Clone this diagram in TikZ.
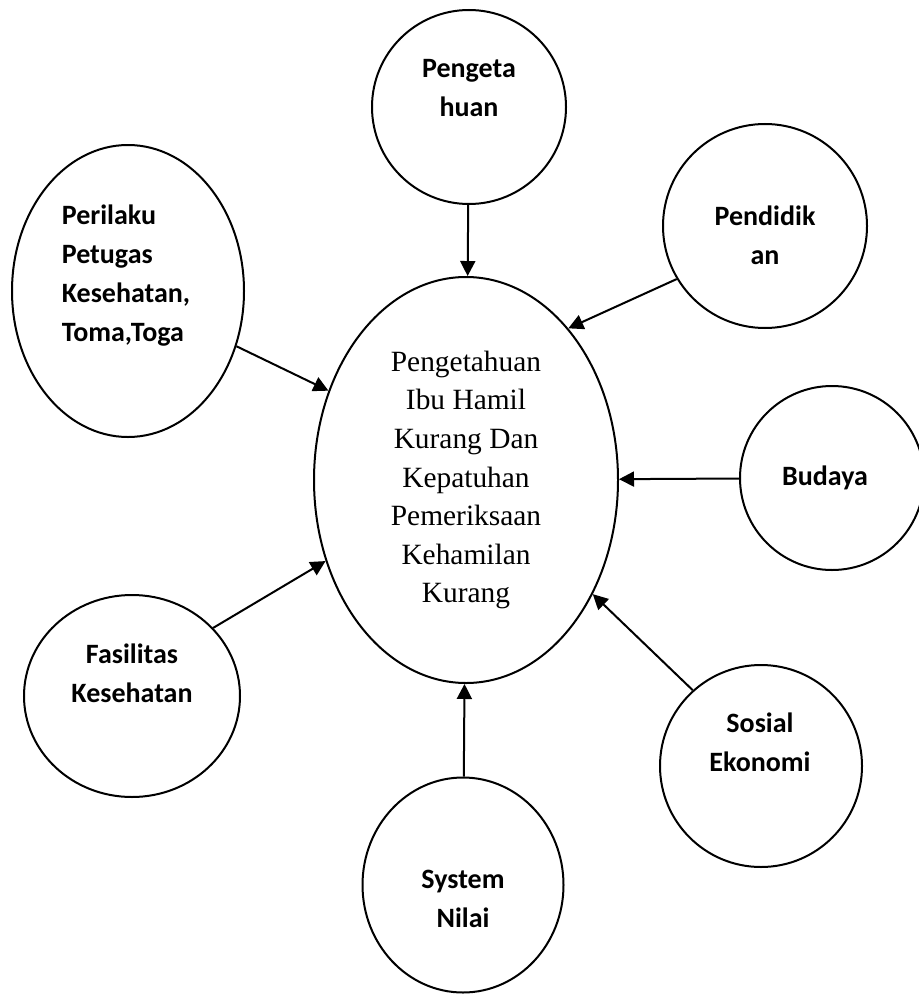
\documentclass[tikz,border=0pt]{standalone}
\usepackage{fontspec}
\setmainfont{Liberation Serif}
\newfontfamily\calibri{Carlito}
\usetikzlibrary{arrows.meta,shapes.geometric,positioning}

\begin{document}
\begin{tikzpicture}[
        x=0.5pt, y=-0.5pt,
        >={Triangle[length=7.5pt,width=7.5pt]},
        every path/.style={line width=1pt},
        factor/.style={draw, ellipse, inner sep=0pt},
        factortext/.style={align=center, inner sep=0pt, font=\calibri\bfseries\fontsize{14pt}{19.5pt}\selectfont},
        core/.style={draw, ellipse, inner sep=0pt, align=center, font=\fontsize{14.7pt}{19.3pt}\selectfont}
    ]

    \useasboundingbox (0,0) rectangle (918,995);

    % Nodes
    \node (ibu)[core, minimum width=152pt, minimum height=203pt] at (466,480) {Pengetahuan\\
        Ibu Hamil\\
        Kurang Dan\\
        Kepatuhan\\
        Pemeriksaan\\
        Kehamilan\\
        Kurang};

    \node (peng)[factor, minimum width=97pt, minimum height=97pt] at (469,107) {};
    \node (peng-t)[factortext] at (469,88) {Pengeta\\huan};

    \node (pend)[factor, minimum width=102pt, minimum height=102pt] at (765,226) {};
    \node (pend-t)[factortext] at (765,235) {Pendidik\\an};

    \node (peri)[factor, minimum width=116pt, minimum height=146pt] at (128,291) {};
    \node (peri-t)[factortext, align=left] at (126,276) {Perilaku\\
        Petugas\\
        Kesehatan,\\
        Toma,Toga};

    \node (bud)[factor, minimum width=92pt, minimum height=92pt] at (832,478) {};
    \node (bud-t)[factortext] at (825,478) {Budaya};

    \node (fas)[factor, minimum width=108pt, minimum height=101pt] at (132,696) {};
    \node (fas-t)[factortext] at (132,673) {Fasilitas\\Kesehatan};

    \node (sos)[factor, minimum width=101pt, minimum height=101pt] at (761,766) {};
    \node (sos-t)[factortext] at (760,742) {Sosial\\Ekonomi};

    \node (sys)[factor, minimum width=100.5pt, minimum height=107.5pt] at (463,885) {};
    \node (sys-t)[factortext] at (463,899) {System\\Nilai};

    % Edges
    \draw[->] (peng) -- (ibu);
    \draw[->] (pend.211) -- (ibu.56);
    \draw[->] (peri.333) -- (ibu.147.5);
    \draw[->] (bud) -- (ibu);
    \draw[->] (fas.40) -- (ibu.210);
    \draw[->] (sos.132) -- (ibu.318);
    \draw[->] (sys) -- (ibu);

\end{tikzpicture}
\end{document}
